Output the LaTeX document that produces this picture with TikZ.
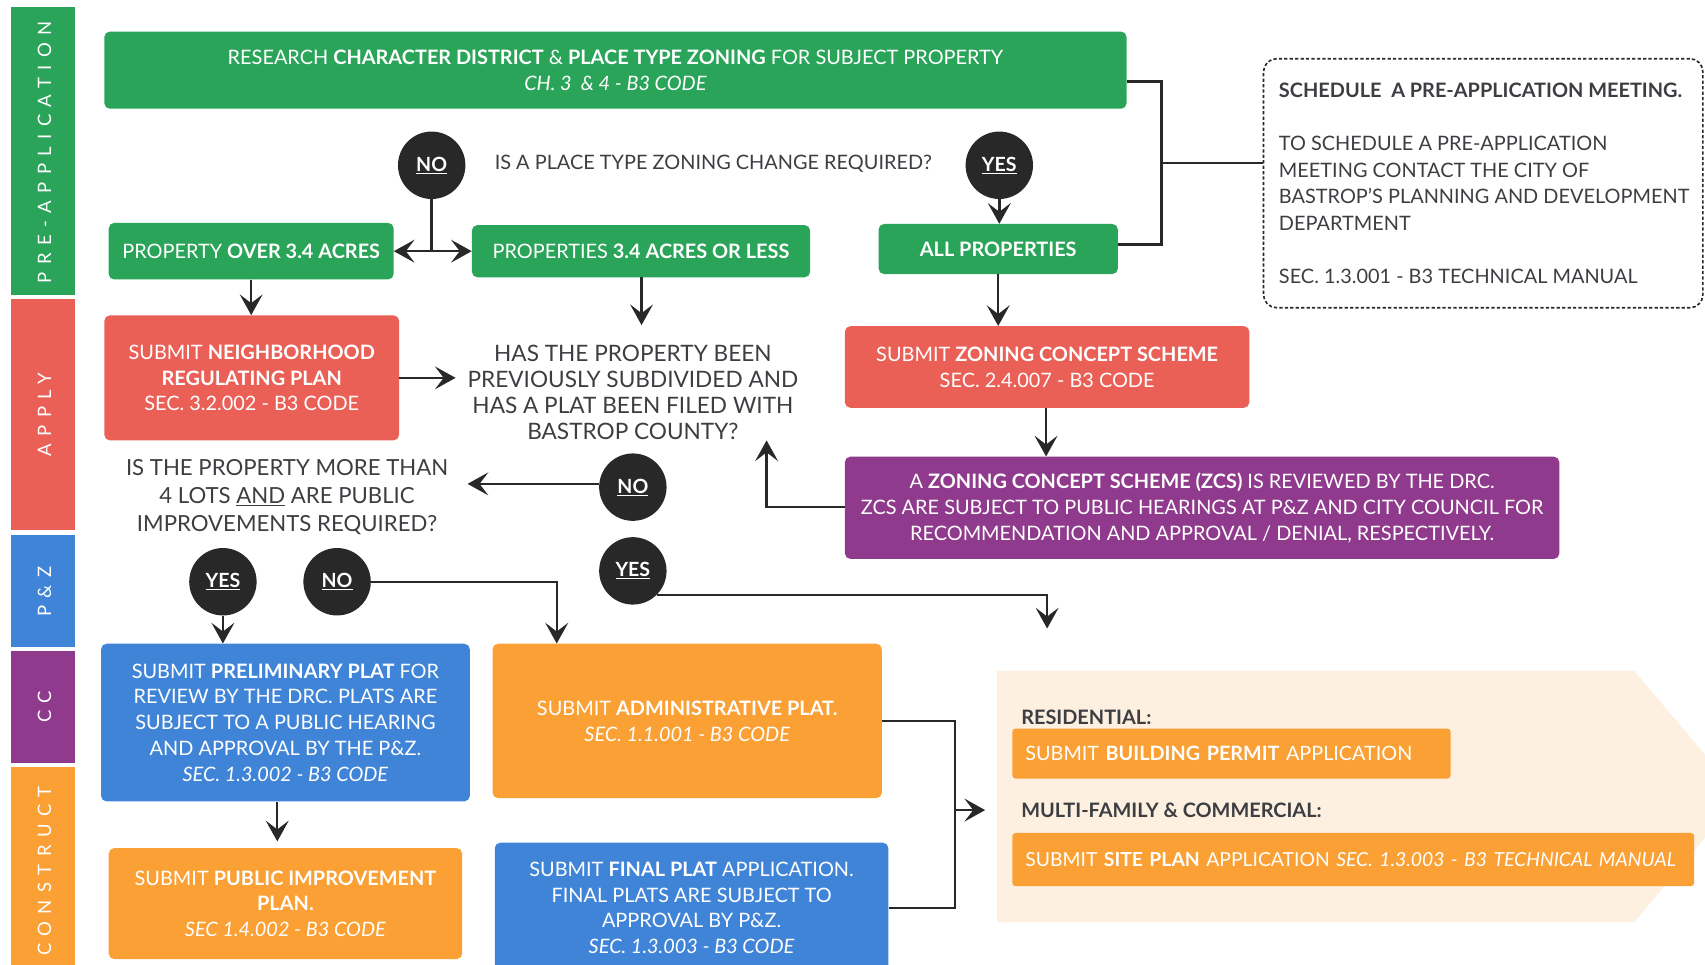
\documentclass[tikz,border=0pt]{standalone}
\usepackage{fontspec}
\setmainfont{Lato}
\newfontfamily\spacedfont[LetterSpace=40]{Lato}
\usetikzlibrary{arrows.meta,calc}
\definecolor{cgreen}{RGB}{41,164,89}
\definecolor{cred}{RGB}{234,96,86}
\definecolor{cblue}{RGB}{64,132,216}
\definecolor{cpurple}{RGB}{143,58,140}
\definecolor{corange}{RGB}{250,160,52}
\definecolor{cdark}{RGB}{40,40,40}
\definecolor{ctext}{RGB}{60,62,66}
\definecolor{cbeige}{RGB}{253,240,225}
\newcommand\fsz[2]{\fontsize{#1}{#2}\selectfont}
\tikzset{
  box/.style={rounded corners=5pt, text=white, align=center, inner sep=0pt, font=\fsz{18.3}{23.7}},
  side/.style={inner sep=0pt, minimum width=59pt},
  sidetext/.style={rotate=90, text=white, font=\spacedfont\fsz{17}{18}, inner sep=0pt},
  circ/.style={circle, fill=cdark, minimum size=62pt, inner sep=0pt, text=white, font=\bfseries\fsz{18}{20}},
  quest/.style={text=ctext, align=center, inner sep=0pt},
  conn/.style={draw=cdark, line width=2.2pt},
  tip/.style={Stealth[length=19pt,width=21pt,inset=8pt]},
  arr/.style={conn, -{Stealth[length=19pt,width=21pt,inset=8pt]}},
  darr/.style={conn, {Stealth[length=19pt,width=21pt,inset=8pt]}-{Stealth[length=19pt,width=21pt,inset=8pt]}},
  bar/.style={fill=corange, rounded corners=3pt, text=white, align=left, inner xsep=12pt, inner ysep=0pt, font=\fsz{18.2}{20}},
  lab/.style={text=ctext, font=\bfseries\fsz{18.3}{20}, inner sep=0pt},
}
\begin{document}
\begin{tikzpicture}[x=1pt,y=-1pt]
\useasboundingbox (0,0) rectangle (1568,887.4);
\clip (0,0) rectangle (1568,887.4);

% sidebar
\node[side, fill=cgreen, minimum height=265pt] (s1) at (39.5,138.5) {};
\node[side, fill=cred, minimum height=212pt] (s2) at (39.5,381) {};
\node[side, fill=cblue, minimum height=103pt] (s3) at (39.5,543.5) {};
\node[side, fill=cpurple, minimum height=103pt] (s4) at (39.5,650.5) {};
\node[side, fill=corange, minimum height=195pt] (s5) at (39.5,802.5) {};
\node[sidetext] (t1) at (41,140) {PRE-APPLICATION};
\node[sidetext] (t2) at (41,381) {APPLY};
\node[sidetext] (t3) at (41,544) {P\&Z};
\node[sidetext] (t4) at (41,650) {CC};
\node[sidetext] (t5) at (41,801) {CONSTRUCT};

% construct background
\fill[cbeige] (917,617) -- (1503,617) -- (1600,732) -- (1503,848) -- (917,848) -- cycle;

% boxes
\node[box, fill=cgreen, minimum width=940pt, minimum height=71pt] (T) at (566,64.5)
  {RESEARCH \textbf{CHARACTER DISTRICT} \& \textbf{PLACE TYPE ZONING} FOR SUBJECT PROPERTY\\\textit{CH. 3 \ \& 4 - B3 CODE}};
\node[box, fill=cgreen, minimum width=262pt, minimum height=52pt] (P1) at (231,231)
  {PROPERTY \textbf{OVER 3.4 ACRES}};
\node[box, fill=cgreen, minimum width=311pt, minimum height=48pt] (P2) at (589.5,231)
  {PROPERTIES \textbf{3.4 ACRES OR LESS}};
\node[box, fill=cgreen, minimum width=220pt, minimum height=46pt] (P3) at (918,229)
  {\textbf{ALL PROPERTIES}};
\node[box, fill=cred, minimum width=271pt, minimum height=115pt] (R1) at (231.5,347.5)
  {SUBMIT \textbf{NEIGHBORHOOD}\\\textbf{REGULATING PLAN}\\SEC. 3.2.002 - B3 CODE};
\node[box, fill=cred, minimum width=372pt, minimum height=75pt] (R2) at (963,337.5)
  {SUBMIT \textbf{ZONING CONCEPT SCHEME}\\SEC. 2.4.007 - B3 CODE};
\node[box, fill=cpurple, minimum width=657pt, minimum height=94pt] (Z) at (1105.5,467)
  {A \textbf{ZONING CONCEPT SCHEME (ZCS)} IS REVIEWED BY THE DRC.\\ZCS ARE SUBJECT TO PUBLIC HEARINGS AT P\&Z AND CITY COUNCIL FOR\\RECOMMENDATION AND APPROVAL / DENIAL, RESPECTIVELY.};
\node[box, fill=cblue, minimum width=339pt, minimum height=145pt] (B1) at (262.5,664.5)
  {SUBMIT \textbf{PRELIMINARY PLAT} FOR\\REVIEW BY THE DRC. PLATS ARE\\SUBJECT TO A PUBLIC HEARING\\AND APPROVAL BY THE P\&Z.\\\textit{SEC. 1.3.002 - B3 CODE}};
\node[box, fill=corange, minimum width=325pt, minimum height=102pt] (O1) at (262.5,831)
  {SUBMIT \textbf{PUBLIC IMPROVEMENT}\\\textbf{PLAN.}\\\textit{SEC 1.4.002 - B3 CODE}};
\node[box, fill=corange, minimum width=358pt, minimum height=142pt] (A1) at (632,663)
  {SUBMIT \textbf{ADMINISTRATIVE PLAT.}\\\textit{SEC. 1.1.001 - B3 CODE}};
\node[box, fill=cblue, minimum width=362pt, minimum height=120pt] (F1) at (636,835)
  {SUBMIT \textbf{FINAL PLAT} APPLICATION.\\FINAL PLATS ARE SUBJECT TO\\APPROVAL BY P\&Z.\\\textit{SEC. 1.3.003 - B3 CODE}};

% dashed box
\node[draw=cdark, dashed, dash pattern=on 3pt off 2pt, line width=1.5pt, rounded corners=12pt,
  minimum width=404pt, minimum height=229pt, inner sep=0pt] (D) at (1364,168.5) {};
\node[text=ctext, align=left, anchor=north west, inner sep=0pt, font=\fsz{18.3}{24.5}] (Dt) at (1176,76)
  {\textbf{SCHEDULE \ A PRE-APPLICATION MEETING.}\\[24.5pt]
   TO SCHEDULE A PRE-APPLICATION\\MEETING CONTACT THE CITY OF\\BASTROP'S PLANNING AND DEVELOPMENT\\DEPARTMENT\\[24.5pt]
   SEC. 1.3.001 - B3 TECHNICAL MANUAL};

% questions
\node[quest, font=\fsz{18.3}{24}] (Q1) at (656,151) {IS A PLACE TYPE ZONING CHANGE REQUIRED?};
\node[quest, font=\fsz{20.8}{24}] (Q2) at (582,361) {HAS THE PROPERTY BEEN\\PREVIOUSLY SUBDIVIDED AND\\HAS A PLAT BEEN FILED WITH\\BASTROP COUNTY?};
\node[quest, font=\fsz{20.4}{25.5}] (Q3) at (264,457) {IS THE PROPERTY MORE THAN\\4 LOTS \underline{AND} ARE PUBLIC\\IMPROVEMENTS REQUIRED?};

% circles
\node[circ] (N1) at (397,152) {\underline{NO}};
\node[circ] (Y1) at (919,152) {\underline{YES}};
\node[circ] (N2) at (582,448) {\underline{NO}};
\node[circ] (Y2) at (582,525) {\underline{YES}};
\node[circ] (Y3) at (205,535) {\underline{YES}};
\node[circ] (N3) at (310,535) {\underline{NO}};

% construct content
\node[lab, anchor=west] (L1) at (939,660) {RESIDENTIAL:};
\node[bar, minimum width=403pt, minimum height=46pt, text width=379pt] (RB1) at (1132.5,693)
  {SUBMIT \textbf{BUILDING PERMIT} APPLICATION};
\node[lab, anchor=west] (L2) at (939,745) {MULTI-FAMILY \& COMMERCIAL:};
\node[bar, minimum width=627pt, minimum height=49pt, text width=603pt, font=\fsz{17.8}{20}] (RB2) at (1244.5,790.5)
  {SUBMIT \textbf{SITE PLAN} APPLICATION \textit{SEC. 1.3.003 - B3 TECHNICAL MANUAL}};

% coordinates
\coordinate (J) at (1068,150);
\coordinate (q2top) at (590,299);
\coordinate (q2left) at (419,347.5);
\coordinate (q2br) at (705,405);
\coordinate (q3r) at (430,445);
\coordinate (cin) at (963,578);
\coordinate (jc) at (878,745);
\coordinate (consin) at (906,745);

% connectors
\draw[conn] ([yshift=-10.5pt]T.east) -| (J) |- ([yshift=4pt]P3.east);
\draw[conn] (J) -- (D.west |- J);
\draw[conn] (N1.south) -- (N1.south |- P1.east);
\draw[darr] (P1.east) -- (P2.west);
\draw[arr] (Y1.south) -- (Y1.south |- P3.north);
\draw[arr] (P1.south) -- (P1.south |- R1.north);
\draw[arr] ([xshift=0.5pt]P2.south) -- (q2top);
\draw[arr] (R1.east) -- (q2left);
\draw[arr] (P3.south) -- (P3.south |- R2.north);
\draw[arr] ([xshift=-1pt]R2.south) -- ([xshift=-1pt]R2.south |- Z.north);
\draw[arr] ([yshift=1pt]Z.west) -| (q2br);
\draw[arr] ([yshift=3pt]N2.west) -- (q3r);
\draw[arr] (Y2.-45) -| (cin);
\draw[arr] (Y3.south) -- (Y3.south |- B1.north);
\draw[arr] (N3.east) -| ([xshift=-120pt]A1.north);
\draw[arr] ([xshift=-7.5pt]B1.south) -- ([xshift=-7.5pt,yshift=6pt]O1.north);
\draw[conn] (A1.east) -| (jc) |- (F1.east);
\draw[arr] (jc) -- (consin);
\end{tikzpicture}
\end{document}
